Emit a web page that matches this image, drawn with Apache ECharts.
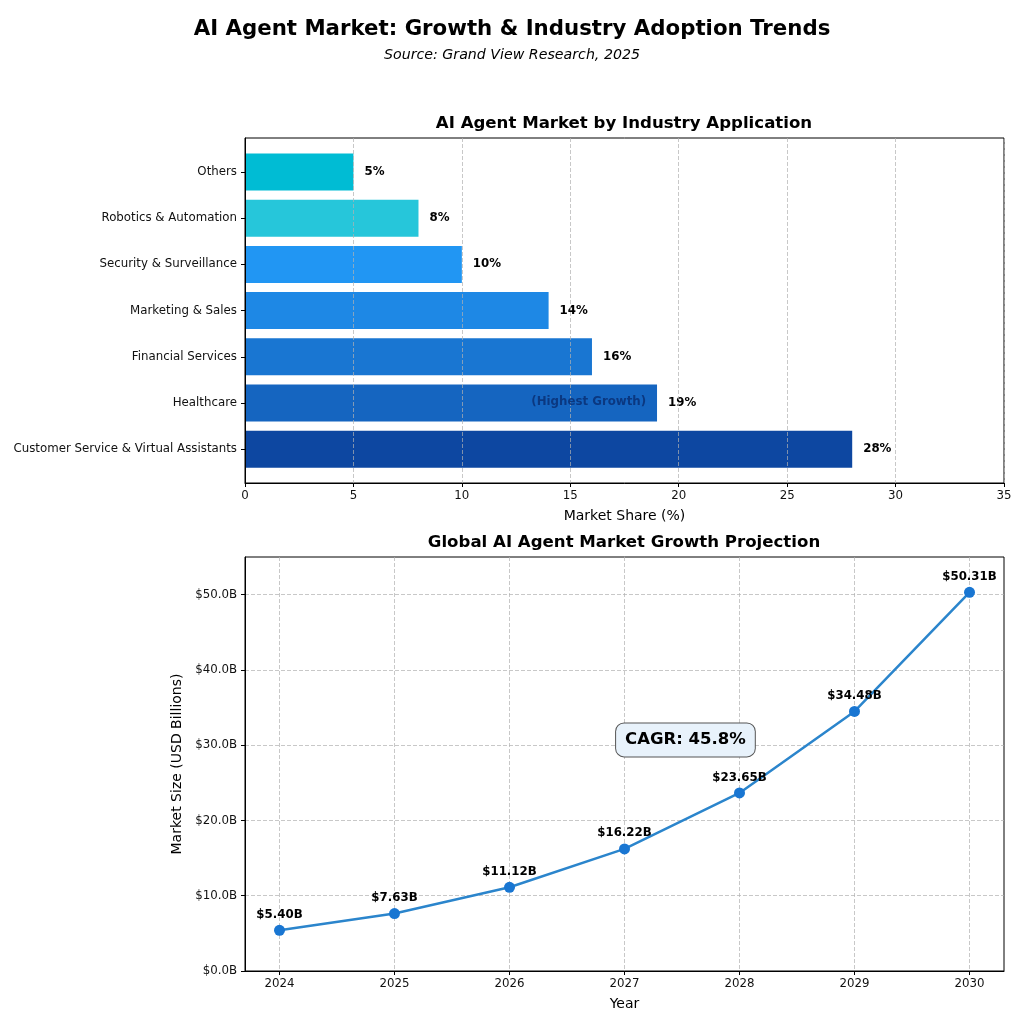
<!DOCTYPE html>
<html>
<head>
<meta charset="utf-8">
<style>html,body{margin:0;padding:0;background:#fff}#main{width:1024px;height:1024px}</style>
<script src="https://cdn.jsdelivr.net/npm/echarts@6/dist/echarts.min.js"></script>
</head>
<body>
<div id="main"></div>
<script>
var industries = ['Customer Service & Virtual Assistants','Healthcare','Financial Services','Marketing & Sales','Security & Surveillance','Robotics & Automation','Others'];
var shares = [28,19,16,14,10,8,5];
var barColors = ['#0D47A1','#1565C0','#1976D2','#1E88E5','#2196F3','#26C6DA','#00BCD4'];
var years = [2024,2025,2026,2027,2028,2029,2030];
var marketSize = [5.40,7.63,11.12,16.22,23.65,34.48,50.31];
var font = 'DejaVu Sans';
var gridLine = {type: 'dashed', color: 'rgba(176,176,176,0.7)', width: 1};
var tickFont = 11.8;
var chart = echarts.init(document.getElementById('main'));

var barData = [];
for (var i = 0; i < shares.length; i++) {
    barData.push({value: shares[i], itemStyle: {color: barColors[i]}});
}
var lineData = [];
for (var j = 0; j < years.length; j++) {
    lineData.push([years[j], marketSize[j]]);
}

function panelTitle(text, top) {
    return {text: text, left: 624, top: top, textAlign: 'center', padding: 0,
        textStyle: {fontSize: 16.6, fontWeight: 'bold', color: '#000', fontFamily: font}};
}

var option = {
    animation: false,
    textStyle: {fontFamily: font},
    title: [
        {text: 'AI Agent Market: Growth & Industry Adoption Trends', left: 512, top: 19, textAlign: 'center', padding: 0,
            textStyle: {fontSize: 21.3, fontWeight: 'bold', color: '#000', fontFamily: font}},
        {text: 'Source: Grand View Research, 2025', left: 512, top: 48, textAlign: 'center', padding: 0,
            textStyle: {fontSize: 14.2, fontStyle: 'italic', fontWeight: 'normal', color: '#000', fontFamily: font}},
        panelTitle('AI Agent Market by Industry Application', 115),
        panelTitle('Global AI Agent Market Growth Projection', 534)
    ],
    grid: [
        // frame of the bar panel, the bars sit in the inner grid so the bands get the right padding
        {left: 245, top: 138, width: 759, height: 345, show: true, borderColor: '#000', borderWidth: 1, backgroundColor: 'transparent'},
        {left: 245, top: 148.9, width: 759, height: 323.4},
        {left: 245, top: 557, width: 759, height: 414, show: true, borderColor: '#000', borderWidth: 1, backgroundColor: 'transparent'}
    ],
    xAxis: [
        {gridIndex: 0, type: 'value', min: 0, max: 35, interval: 5, z: 5,
            name: 'Market Share (%)', nameLocation: 'middle', nameGap: 26,
            nameTextStyle: {fontSize: 14, color: '#000'},
            axisLine: {show: true, onZero: false, lineStyle: {color: '#000'}},
            axisTick: {show: true, length: 4, lineStyle: {color: '#000'}},
            axisLabel: {fontSize: tickFont, color: '#111', margin: 7},
            splitLine: {show: true, lineStyle: gridLine}},
        {gridIndex: 1, type: 'value', min: 0, max: 35, show: false},
        {gridIndex: 2, type: 'value', min: 2023.7, max: 2030.3,
            name: 'Year', nameLocation: 'middle', nameGap: 26,
            nameTextStyle: {fontSize: 14, color: '#000'},
            axisLine: {show: true, onZero: false, lineStyle: {color: '#000'}},
            axisTick: {show: true, customValues: years, length: 4, lineStyle: {color: '#000'}},
            axisLabel: {fontSize: tickFont, color: '#111', margin: 7, customValues: years,
                formatter: function (v) { return String(v); }},
            splitLine: {show: true, lineStyle: gridLine}}
    ],
    yAxis: [
        {gridIndex: 0, type: 'value', min: 0, max: 1, z: 5,
            axisLine: {show: true, lineStyle: {color: '#000'}},
            axisTick: {show: false}, axisLabel: {show: false}, splitLine: {show: false}},
        {gridIndex: 1, type: 'category', data: industries,
            axisLine: {show: false},
            axisTick: {show: true, alignWithLabel: true, length: 4, lineStyle: {color: '#000'}},
            axisLabel: {fontSize: tickFont, color: '#111', margin: 8, interval: 0},
            splitLine: {show: false}},
        {gridIndex: 2, type: 'value', min: 0, max: 55, interval: 10,
            name: 'Market Size (USD Billions)', nameLocation: 'middle', nameGap: 56,
            nameTextStyle: {fontSize: 14, color: '#000'},
            axisLine: {show: true, onZero: false, lineStyle: {color: '#000'}},
            axisTick: {show: true, length: 4, lineStyle: {color: '#000'}},
            axisLabel: {fontSize: tickFont, color: '#111', margin: 8, showMaxLabel: false,
                formatter: function (v) { return '$' + v.toFixed(1) + 'B'; }},
            splitLine: {show: true, showMaxLine: false, lineStyle: gridLine}}
    ],
    series: [
        {type: 'bar', xAxisIndex: 1, yAxisIndex: 1, data: barData, barWidth: 37, z: 2,
            label: {show: true, position: 'right', distance: 11, fontSize: tickFont, fontWeight: 'bold', color: '#000',
                formatter: '{c}%'},
            markPoint: {
                symbol: 'circle', symbolSize: 1, itemStyle: {color: 'transparent'},
                data: [{coord: [15.85, 'Healthcare'],
                    label: {show: true, position: 'inside', offset: [0, -1], formatter: '(Highest Growth)', fontSize: tickFont, fontWeight: 'bold', color: '#0b3880'}}]
            }},
        {type: 'line', xAxisIndex: 2, yAxisIndex: 2, data: lineData, symbol: 'circle', symbolSize: 11,
            lineStyle: {color: '#2b85cc', width: 2.5}, itemStyle: {color: '#1976D2'}, z: 3,
            label: {show: true, position: 'top', distance: 4, fontSize: tickFont, fontWeight: 'bold', color: '#000',
                formatter: function (p) { return '$' + p.value[1].toFixed(2) + 'B'; }},
            markPoint: {
                symbol: 'circle', symbolSize: 1, itemStyle: {color: 'transparent'},
                data: [{coord: [2027.53, 30.7],
                    label: {show: true, position: 'inside', formatter: 'CAGR: 45.8%', fontSize: 16.5, fontWeight: 'bold', color: '#000',
                        backgroundColor: '#e8f2fb', borderColor: '#555', borderWidth: 1, borderRadius: 8, padding: [8, 9]}}]
            }}
    ]
};
chart.setOption(option);
</script>
</body>
</html>
